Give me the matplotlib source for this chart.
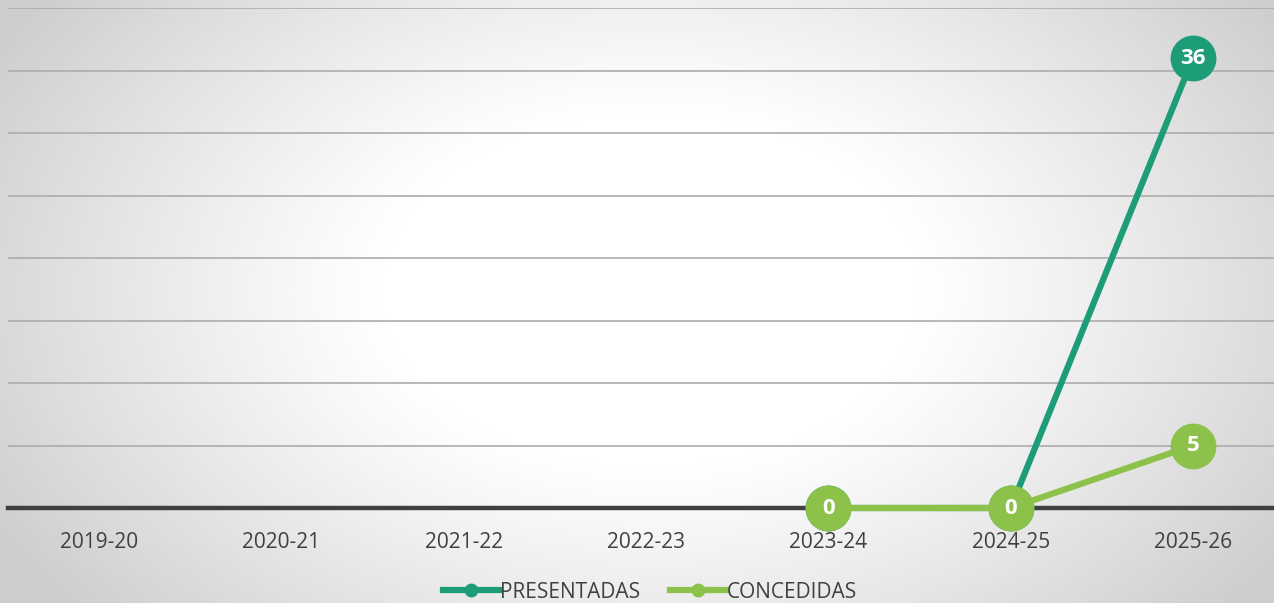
import numpy as np
import matplotlib
matplotlib.use("Agg")
import matplotlib.pyplot as plt
from matplotlib.lines import Line2D

plt.rcParams['font.family'] = ['Open Sans', 'DejaVu Sans']

categories = ["2019-20", "2020-21", "2021-22", "2022-23", "2023-24", "2024-25", "2025-26"]
presentadas = [None, None, None, None, 0, 0, 36]
concedidas = [None, None, None, None, 0, 0, 5]
series_names = ["PRESENTADAS", "CONCEDIDAS"]
colors = ["#1d9c78", "#8cc24a"]

W, H = 1274, 603
fig = plt.figure(figsize=(W / 100, H / 100), dpi=100)

# background radial gradient
bg = fig.add_axes([0, 0, 1, 1], zorder=0)
yy, xx = np.mgrid[0:H, 0:W]
dx = (xx - 650) / 640.0
dy = (yy - 290) / 420.0
r = np.sqrt(dx ** 2 + dy ** 2)
t = np.clip((r - 0.42) / 0.75, 0, 1)
v = 1.0 - 0.19 * t ** 1.1
img = np.dstack([v, v, v])
bg.imshow(img, extent=[0, W, H, 0], aspect='auto', interpolation='bilinear')
bg.axis('off')

left = 8 / W
width = 7 * 182.3 / W
bottom = (H - 508) / H
height = 500 / H
ax = fig.add_axes([left, bottom, width, height], zorder=1)
ax.patch.set_alpha(0)

x = np.arange(len(categories))

def to_arr(vals):
    return np.array([np.nan if v is None else v for v in vals], dtype=float)

p = to_arr(presentadas)
c = to_arr(concedidas)

ax.set_xlim(-0.5, len(categories) - 0.5)
ax.set_ylim(0, 40)
ax.set_yticks(np.arange(0, 41, 5))
ax.yaxis.grid(True, color="#acacac", linewidth=1.2)
ax.set_axisbelow(True)
for s in ["top", "right", "left"]:
    ax.spines[s].set_visible(False)
ax.spines["bottom"].set_color("#404040")
ax.spines["bottom"].set_linewidth(3.2)
ax.spines["bottom"].set_zorder(2)
ax.tick_params(axis='y', left=False, labelleft=False)
ax.tick_params(axis='x', length=0, pad=17, labelsize=15, labelcolor="#404040")
ax.set_xticks(x)
ax.set_xticklabels(categories)

ms = 32
for vals, col, z in [(p, colors[0], 3), (c, colors[1], 5)]:
    ax.plot(x, vals, color=col, linewidth=4.5, marker='o', markersize=ms,
            markerfacecolor=col, markeredgecolor=col, zorder=z, clip_on=False,
            solid_capstyle='round')
    for xi, vi in zip(x, vals):
        if not np.isnan(vi):
            ax.text(xi, vi, f"{int(vi)}", color="white", fontsize=16, fontweight='bold',
                    ha='center', va='center', zorder=z + 1, clip_on=False)

handles = [Line2D([0], [0], color=colors[0], linewidth=4.5, marker='o', markersize=9),
           Line2D([0], [0], color=colors[1], linewidth=4.5, marker='o', markersize=9)]
fig.legend(handles, series_names, loc='center', bbox_to_anchor=(650 / W, 1 - 592 / H),
           ncol=2, frameon=False, fontsize=15, labelcolor="#404040",
           handlelength=2.7, handletextpad=0.05, columnspacing=1.4)

fig.savefig("out.png", dpi=100)
